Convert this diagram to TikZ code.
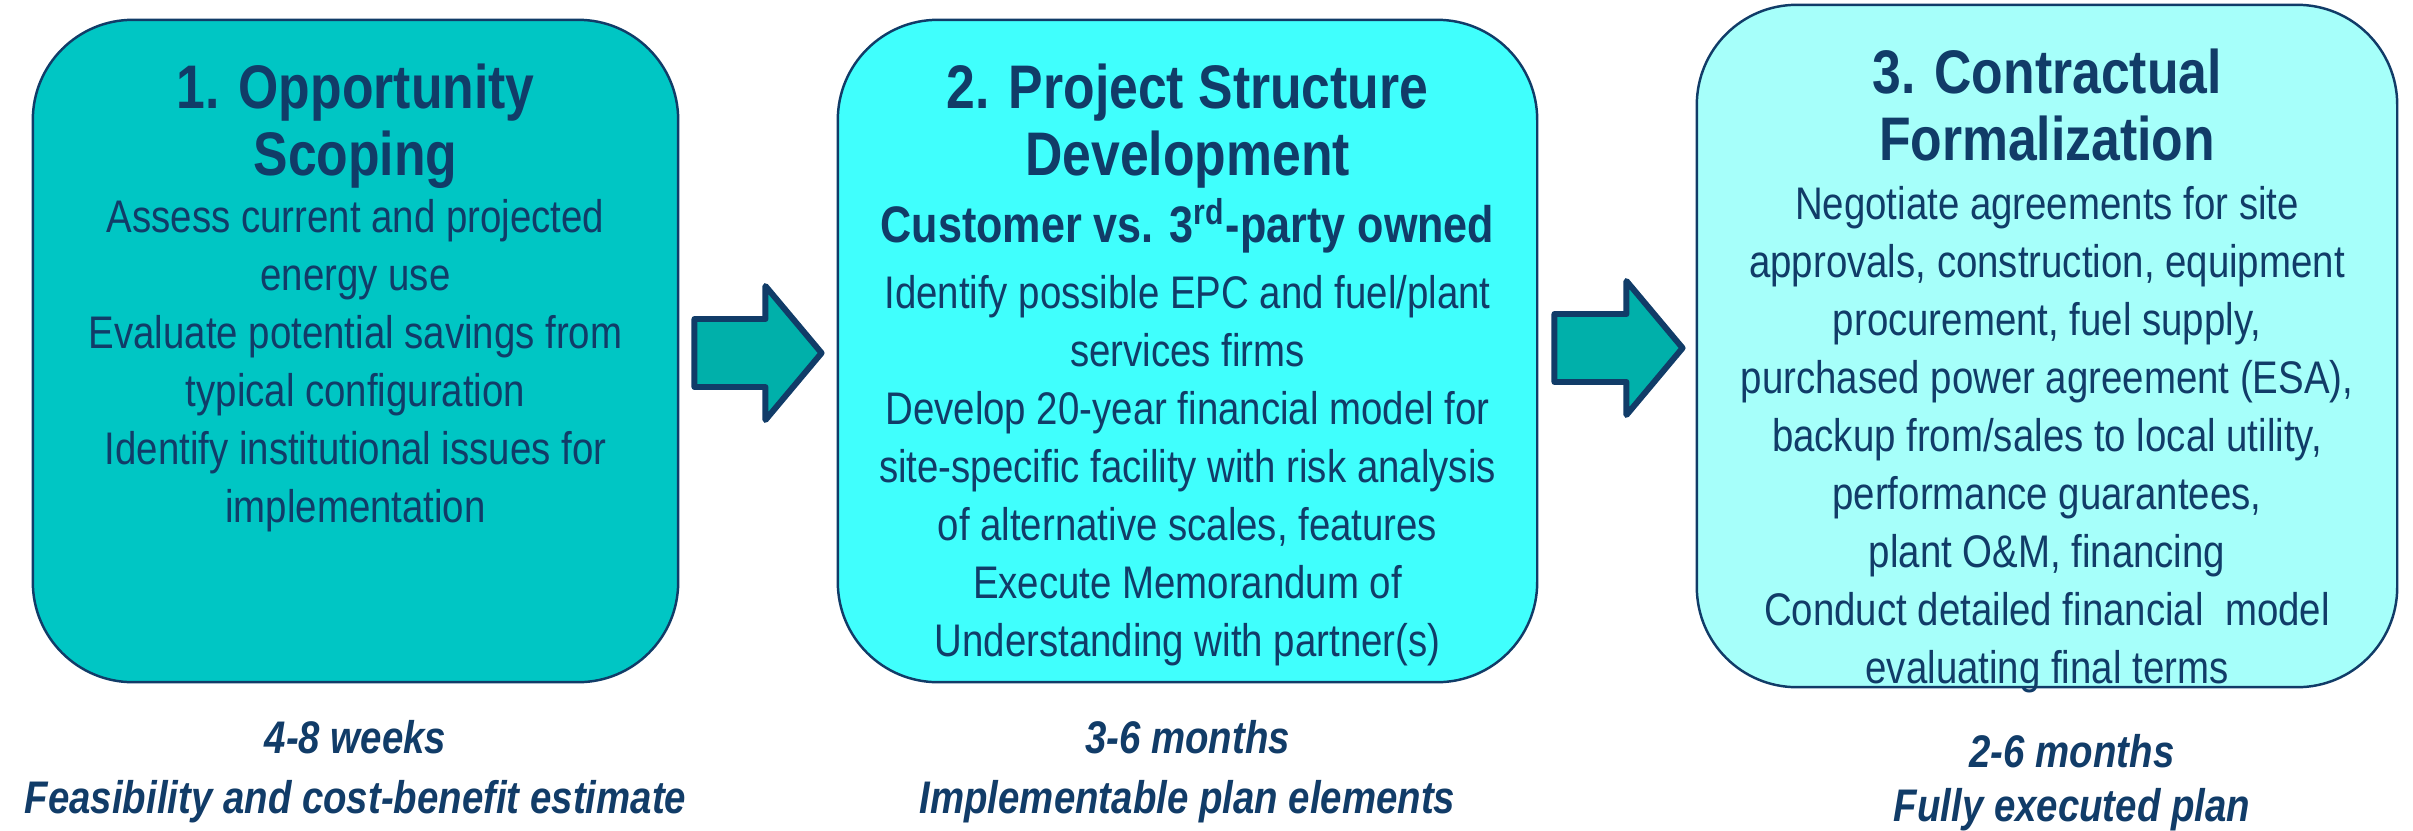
\documentclass[tikz,border=0pt]{standalone}
\usepackage{fontspec}
\usepackage{xcolor}
\newfontfamily\narrowsans[FakeStretch=0.84]{Liberation Sans}
\usetikzlibrary{calc,positioning}

\begin{document}
\begin{tikzpicture}[x=0.01cm,y=-0.01cm,
    stagebox/.style={draw=r17g60b104,line width=0.7pt,rounded corners=1cm,inner sep=0pt},
    stagetitle/.style={text=r17g60b104,align=center,inner sep=0pt,
      font=\narrowsans\bfseries\fontsize{17.5}{18.9}\selectfont},
    stagenote/.style={text=r17g60b104,align=center,inner sep=0pt,
      font=\narrowsans\bfseries\fontsize{14.6}{17}\selectfont},
    stagebody/.style={text=r17g60b104,align=center,inner sep=0pt,
      font=\narrowsans\fontsize{13}{16.5}\selectfont},
    stagetime/.style={text=r17g60b104,align=center,inner sep=0pt,
      font=\narrowsans\bfseries\itshape\fontsize{13}{17}\selectfont},
    flowarrow/.style={draw=r17g60b104,fill=r0g176b170,line width=1.7pt,line join=round}]
                        \useasboundingbox (0,0) rectangle (2413,830);

                        % Changing colors
                        \definecolor{r17g60b104}{RGB}{17,60,104}%
                        \definecolor{r0g198b196}{RGB}{0,198,196}%
                        \definecolor{r64g255b253}{RGB}{64,255,253}%
                        \definecolor{r166g255b250}{RGB}{166,255,250}%
                        \definecolor{r0g176b170}{RGB}{0,176,170}%

                        % Drawing stage boxes
                        \node [stagebox,fill=r0g198b196,minimum width=6.45cm,minimum height=6.62cm] (scoping) at (355.5,351) {};%
                        \node [stagebox,fill=r64g255b253,minimum width=6.99cm,minimum height=6.62cm] (structure) at (1187.5,351) {};%
                        \node [stagebox,fill=r166g255b250,minimum width=7.00cm,minimum height=6.82cm] (formal) at (2047,346) {};%

                        % Marking stage 1 texts
                        \node [stagetitle,below=0.45cm of scoping.north] (scopingtitle) {1. Opportunity\\Scoping};%
                        \node [stagebody,below=1.80cm of scoping.north] (scopingbody) {Assess current and projected\\energy use\\Evaluate potential savings from\\typical configuration\\Identify institutional issues for\\implementation};%
                        \node [stagetime,below=0.36cm of scoping.south] (scopingtime) {4-8 weeks\\Feasibility and cost-benefit estimate};%

                        % Marking stage 2 texts
                        \node [stagetitle,below=0.45cm of structure.north] (structuretitle) {2. Project Structure\\Development};%
                        \node [stagenote,below=1.79cm of structure.north] (structurenote) {Customer vs. 3\textsuperscript{rd}-party owned};%
                        \node [stagebody,below=2.56cm of structure.north] (structurebody) {Identify possible EPC and fuel/plant\\services firms\\Develop 20-year financial model for\\site-specific facility with risk analysis\\of alternative scales, features\\Execute Memorandum of\\Understanding with partner(s)};%
                        \node [stagetime,below=0.36cm of structure.south] (structuretime) {3-6 months\\Implementable plan elements};%

                        % Marking stage 3 texts
                        \node [stagetitle,below=0.45cm of formal.north] (formaltitle) {3. Contractual\\Formalization};%
                        \node [stagebody,below=1.82cm of formal.north] (formalbody) {Negotiate agreements for site\\approvals, construction, equipment\\procurement, fuel supply,\\purchased power agreement (ESA),\\backup from/sales to local utility,\\performance guarantees,\\plant O\&M, financing\\Conduct detailed financial~ model\\evaluating final terms};%
                        \node [stagetime,below=0.45cm of formal.south,xshift=0.25cm,font=\narrowsans\bfseries\itshape\fontsize{13}{15.5}\selectfont] (formaltime) {2-6 months\\Fully executed plan};%

                        % Drawing arrow scoping structure
                        \coordinate (a1) at ($(scoping.east)+(15,2)$);
                        \coordinate (a1tip) at ($(structure.west)+(-15,2)$);
                        \draw [flowarrow] ($(a1)+(0,-34)$) -- ($(a1)+(71,-34)$) -- ($(a1)+(71,-67)$) -- (a1tip)
                          -- ($(a1)+(71,67)$) -- ($(a1)+(71,34)$) -- ($(a1)+(0,34)$) -- cycle;%

                        % Drawing arrow structure formal
                        \coordinate (a2) at ($(structure.east)+(16,-3)$);
                        \coordinate (a2tip) at ($(formal.west)+(-13,2)$);
                        \draw [flowarrow] ($(a2)+(0,-34)$) -- ($(a2)+(72,-34)$) -- ($(a2)+(72,-67)$) -- (a2tip)
                          -- ($(a2)+(72,67)$) -- ($(a2)+(72,34)$) -- ($(a2)+(0,34)$) -- cycle;%
\end{tikzpicture}
\end{document}
